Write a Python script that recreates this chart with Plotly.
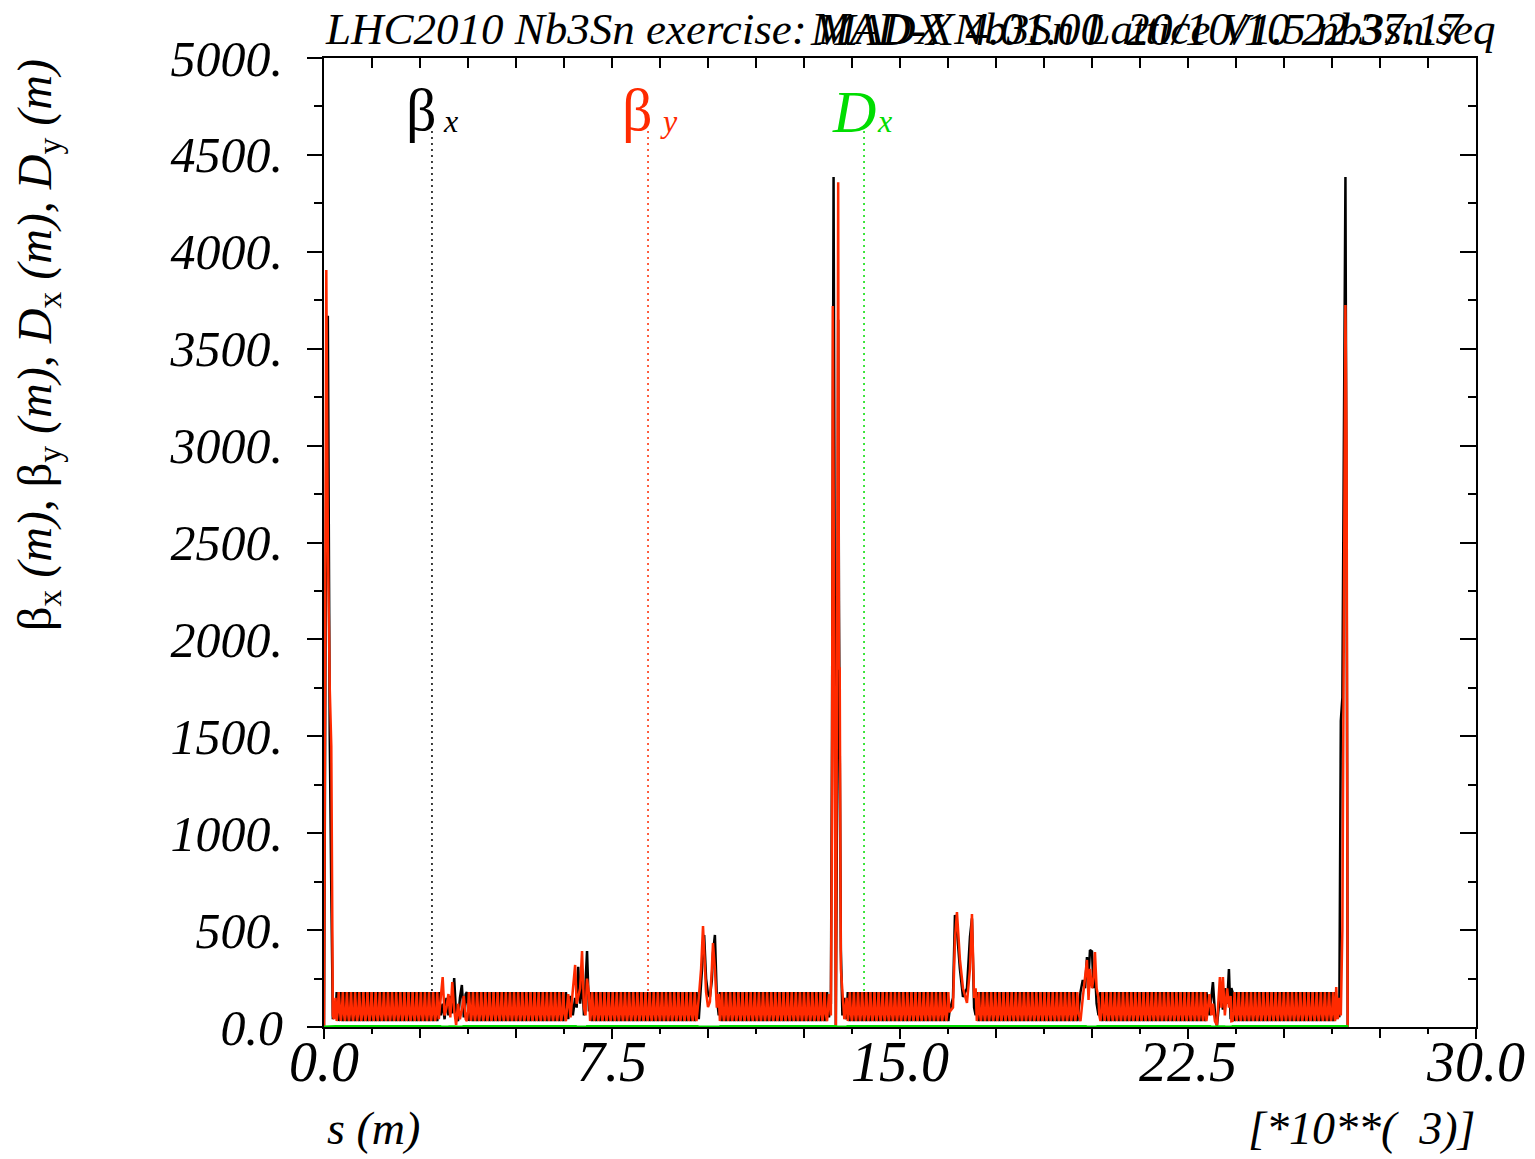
import plotly.graph_objects as go

# ---------------- data ----------------
# Arc FODO cell (length in m) and optics values at 0, 1/4, 1/2, 3/4 of a cell
CELL_LENGTH = 106.9
CELL_FRAC = [0.0, 0.25, 0.5, 0.75]
CELL_BETX = [180.0, 76.0, 31.0, 76.0]
CELL_BETY = [31.0, 76.0, 180.0, 76.0]

# Arcs: start position (m) and number of cells
ARC_START = [330, 3720, 6930, 10310, 13640, 17000, 20220, 23660]
ARC_NCELL = [25, 24, 26, 26, 25, 25, 26, 25]

# Insertion regions (s in m, beta_x, beta_y)
IR1R_S = [0, 25, 60, 100, 150, 190, 230, 260, 300]
IR1R_BX = [0.6, 1200, 3000, 3670, 1500, 700, 40, 120, 60]
IR1R_BY = [0.6, 2300, 3906, 2500, 1744, 1450, 60, 40, 150]

IR2_S = [2990, 3040, 3090, 3140, 3190, 3240, 3290, 3340, 3390, 3440, 3490, 3540, 3590, 3640, 3690]
IR2_BX = [180, 60, 120, 40, 150, 60, 160, 70, 253, 60, 30, 150, 217, 50, 170]
IR2_BY = [40, 150, 258, 60, 100, 170, 50, 232, 90, 10, 120, 40, 90, 160, 40]

IR3_S = [6300, 6360, 6420, 6480, 6540, 6580, 6620, 6670, 6720, 6770, 6810, 6850, 6900]
IR3_BX = [180, 40, 160, 60, 150, 100, 310, 120, 250, 60, 200, 392, 80]
IR3_BY = [30, 170, 50, 190, 320, 120, 150, 200, 392, 100, 60, 250, 170]

IR4_S = [9700, 9760, 9820, 9870, 9900, 9950, 10000, 10050, 10100, 10130, 10180, 10230, 10280]
IR4_BX = [180, 40, 200, 380, 475, 250, 170, 155, 240, 380, 475, 150, 60]
IR4_BY = [30, 150, 300, 521, 400, 180, 103, 130, 300, 433, 300, 100, 170]

IR5_S = [13100, 13150, 13200, 13230, 13250, 13270, 13290, 13329, 13370, 13390, 13410, 13430, 13460, 13500, 13550, 13610]
IR5_BX = [180, 50, 120, 1500, 2500, 4386, 3000, 0.6, 1500, 3650, 2200, 1500, 400, 60, 150, 40]
IR5_BY = [30, 170, 60, 1200, 3720, 2800, 1850, 0.6, 2500, 4359, 1850, 1850, 300, 170, 40, 150]

IR6_S = [16380, 16431, 16483, 16560, 16640, 16744, 16822, 16874, 16930, 16970]
IR6_BX = [150, 578, 500, 300, 155, 200, 464, 560, 100, 60]
IR6_BY = [100, 450, 593, 350, 200, 124, 300, 583, 150, 200]

IR7_S = [19700, 19760, 19820, 19869, 19910, 19947, 20000, 20040, 20077, 20120, 20170, 20190]
IR7_BX = [180, 242, 200, 361, 250, 397, 390, 200, 300, 120, 60, 120]
IR7_BY = [30, 150, 280, 346, 140, 300, 200, 250, 387, 200, 150, 60]

IR8_S = [22980, 23060, 23110, 23149, 23200, 23253, 23300, 23331, 23370, 23409, 23460, 23520, 23566, 23610, 23630]
IR8_BX = [180, 60, 150, 232, 80, 5, 100, 180, 150, 90, 200, 120, 299, 40, 201]
IR8_BY = [30, 170, 60, 120, 30, 10, 200, 258, 100, 258, 60, 200, 100, 160, 30]

IR1L_S = [26330, 26360, 26400, 26440, 26480, 26520, 26560, 26600, 26630, 26659]
IR1L_BX = [180, 40, 120, 50, 1580, 1700, 2800, 4386, 2500, 0.6]
IR1L_BY = [30, 206, 40, 150, 60, 500, 1800, 3726, 3000, 0.6]

# Horizontal dispersion (m): small positive in arcs, slightly negative in insertions
DX_S = [0, 290, 300, 3030, 3040, 3250, 3260, 3400, 3410, 3620, 3630, 6560, 6570, 6840, 6850,
        9730, 9740, 10310, 10320, 13330, 13340, 13620, 13630, 19840, 19850, 20130, 20140,
        23080, 23090, 23250, 23260, 23450, 23460, 23650, 23660, 26650, 26659]
DX_V = [-0.3, -0.5, 2.0, 2.0, -0.5, -0.5, 1.5, 1.5, -0.5, -0.5, 2.0, 2.0, -0.5, -0.5, 2.0,
        2.0, -0.5, -0.5, 2.0, 2.0, -0.5, -0.5, 2.0, 2.0, -0.5, -0.5, 2.0,
        2.0, -0.5, -0.5, 1.5, 1.5, -0.5, -0.5, 2.0, 2.0, 0.0]

# Axis ticks
X_TICKVALS = [0, 7500, 15000, 22500, 30000]
X_TICKTEXT = ["0.0", "7.5", "15.0", "22.5", "30.0"]
X_MID = [2500, 5000, 10000, 12500, 17500, 20000, 25000, 27500]
X_MINOR = [1250, 3750, 6250, 8750, 11250, 13750, 16250, 18750, 21250, 23750, 26250, 28750]
X_TOP = [1250, 2500, 3750, 5000, 6250, 7500, 8750, 10000, 11250, 12500, 13750, 15000,
         16250, 17500, 18750, 20000, 21250, 22500, 23750, 25000, 26250, 27500, 28750]
Y_TICKVALS = [0, 500, 1000, 1500, 2000, 2500, 3000, 3500, 4000, 4500, 5000]
Y_TICKTEXT = ["0.0", "500.", "1000.", "1500.", "2000.", "2500.", "3000.", "3500.", "4000.", "4500.", "5000."]
Y_MINOR = [250, 750, 1250, 1750, 2250, 2750, 3250, 3750, 4250, 4750]

# Legend marker positions (s, m) and top of dotted lines
LEG_S = [2812, 8438, 14063]
LEG_TOP = 4628

# ---------------- assemble the optics ----------------
IRS = [(IR1R_S, IR1R_BX, IR1R_BY), (IR2_S, IR2_BX, IR2_BY), (IR3_S, IR3_BX, IR3_BY),
       (IR4_S, IR4_BX, IR4_BY), (IR5_S, IR5_BX, IR5_BY), (IR6_S, IR6_BX, IR6_BY),
       (IR7_S, IR7_BX, IR7_BY), (IR8_S, IR8_BX, IR8_BY)]

s_all, bx_all, by_all = [], [], []
for k in range(8):
    s_ir, bx_ir, by_ir = IRS[k]
    s_all += s_ir
    bx_all += bx_ir
    by_all += by_ir
    for c in range(ARC_NCELL[k]):
        for f, vx, vy in zip(CELL_FRAC, CELL_BETX, CELL_BETY):
            s_all.append(ARC_START[k] + (c + f) * CELL_LENGTH)
            bx_all.append(vx)
            by_all.append(vy)
s_all += IR1L_S
bx_all += IR1L_BX
by_all += IR1L_BY

# ---------------- figure ----------------
L, R, T, B = 324, 1476, 58, 1027
W, H = 1535, 1159
def fx(px):
    return (px - L) / (R - L)
def fy(py):
    return (B - py) / (B - T)

RED = "#ff2a00"
GREEN = "#00dd00"
FONT = "Liberation Serif"

fig = go.Figure()
fig.add_trace(go.Scatter(x=s_all, y=bx_all, mode="lines", line=dict(color="black", width=2.5),
                         showlegend=False, hoverinfo="skip"))
fig.add_trace(go.Scatter(x=s_all, y=by_all, mode="lines", line=dict(color=RED, width=2.5),
                         showlegend=False, hoverinfo="skip"))
fig.add_trace(go.Scatter(x=DX_S, y=DX_V, mode="lines", line=dict(color=GREEN, width=3),
                         showlegend=False, hoverinfo="skip"))
fig.add_trace(go.Scatter(x=[], y=[], xaxis="x2", yaxis="y2", showlegend=False))
fig.add_trace(go.Scatter(x=[], y=[], xaxis="x3", yaxis="y", showlegend=False))

for s_leg, col in zip(LEG_S, ["black", RED, GREEN]):
    fig.add_shape(type="line", xref="x", yref="y", x0=s_leg, x1=s_leg, y0=0, y1=LEG_TOP,
                  line=dict(color=col, width=1.5, dash="2px,4px"), layer="below")

tickfont_x = dict(family=FONT, size=56, color="black", style="italic")
tickfont_y = dict(family=FONT, size=50, color="black", style="italic")

fig.update_layout(
    width=W, height=H,
    margin=dict(l=L, r=W - R, t=T, b=H - B, autoexpand=False),
    paper_bgcolor="white", plot_bgcolor="white", showlegend=False,
    xaxis=dict(range=[0, 30000], tickmode="array", tickvals=X_TICKVALS, ticktext=X_TICKTEXT,
               ticks="outside", ticklen=10, tickwidth=2, tickcolor="black",
               minor=dict(tickvals=X_MINOR, ticks="outside", ticklen=5, tickwidth=2, tickcolor="black"),
               showline=True, linecolor="black", linewidth=2, showgrid=False, zeroline=False,
               layer="below traces", tickfont=tickfont_x, automargin=False, fixedrange=True,
               ticklabelstandoff=-25),
    xaxis3=dict(range=[0, 30000], overlaying="x", side="bottom", anchor="y", tickmode="array",
                tickvals=X_MID, ticks="outside", ticklen=10, tickwidth=2, tickcolor="black",
                showticklabels=False, showline=False, showgrid=False, zeroline=False,
                automargin=False, fixedrange=True, layer="below traces"),
    yaxis=dict(range=[0, 5000], tickmode="array", tickvals=Y_TICKVALS, ticktext=Y_TICKTEXT,
               ticks="outside", ticklen=15, tickwidth=2, tickcolor="black",
               minor=dict(tickvals=Y_MINOR, ticks="outside", ticklen=8, tickwidth=2, tickcolor="black"),
               showline=True, linecolor="black", linewidth=2, showgrid=False, zeroline=False,
               tickfont=tickfont_y, automargin=False, ticklabelstandoff=14, fixedrange=True),
    xaxis2=dict(range=[0, 30000], overlaying="x", side="top", anchor="y", tickmode="array",
                tickvals=X_TOP, ticks="inside", ticklen=10, tickwidth=2, tickcolor="black",
                showticklabels=False, showline=True, linecolor="black", linewidth=2,
                showgrid=False, zeroline=False, automargin=False, fixedrange=True),
    yaxis2=dict(range=[0, 5000], overlaying="y", side="right", anchor="x", tickmode="array",
                tickvals=Y_TICKVALS, ticks="inside", ticklen=16, tickwidth=2, tickcolor="black",
                minor=dict(tickvals=Y_MINOR, ticks="inside", ticklen=8, tickwidth=2, tickcolor="black"),
                showticklabels=False, showline=True, linecolor="black", linewidth=2,
                showgrid=False, zeroline=False, automargin=False, fixedrange=True),
)

def ann(text, px, py, size, color="black", xanchor="left", italic=True, angle=0):
    fig.add_annotation(text=text, xref="paper", yref="paper", x=fx(px), y=fy(py),
                       xanchor=xanchor, yanchor="middle", showarrow=False, textangle=angle,
                       font=dict(family=FONT, size=size, color=color,
                                 style="italic" if italic else "normal"))

# titles (the two header strings overlap in the original, as here)
ann("LHC2010 Nb3Sn exercise: MADX Nb3Sn Lattice V1.5 nb3sn.seq", 323, 29, 45)
ann("MAD-X 4.01.00  20/10/10 22.37.17", 808, 29, 46)
# axis labels
ann("s (m)", 325, 1128, 46)
ann("[*10**(  3)]", 1477, 1128, 46, xanchor="right")
ann("β<sub>x</sub> <i>(m)</i>, β<sub>y</sub> <i>(m)</i>, <i>D</i><sub>x</sub> <i>(m)</i>, <i>D</i><sub>y</sub> <i>(m)</i>",
    38, 345, 48, xanchor="center", italic=False, angle=-90)
# legend
ann("β", 404, 110, 60, italic=False)
ann("x", 441, 121, 32)
ann("β", 620, 110, 60, color=RED, italic=False)
ann("y", 658, 121, 32, color=RED)
ann("D", 830, 112, 60, color=GREEN)
ann("x", 875, 121, 32, color=GREEN)

fig.write_html("out.html")
